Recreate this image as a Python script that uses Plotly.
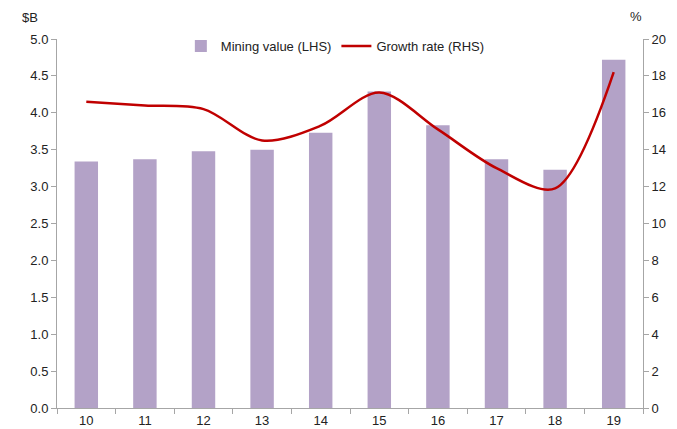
import plotly.graph_objects as go

categories = ["10", "11", "12", "13", "14", "15", "16", "17", "18", "19"]
mining_value = [3.34, 3.37, 3.48, 3.50, 3.73, 4.29, 3.83, 3.37, 3.23, 4.72]
growth_rate = [16.6, 16.4, 16.2, 14.5, 15.3, 17.1, 15.1, 13.0, 11.9, 18.2]
left_ticks = [0, 0.5, 1, 1.5, 2, 2.5, 3, 3.5, 4, 4.5, 5]
right_ticks = list(range(0, 21, 2))

font_family = "Liberation Sans, Arial, sans-serif"
axis_col = "#A6A6A6"

fig = go.Figure()
fig.add_trace(go.Bar(
    x=categories, y=mining_value, name="Mining value (LHS)",
    marker=dict(color="#B3A2C7", line=dict(width=0)), yaxis="y",
))
fig.add_trace(go.Scatter(
    x=categories, y=growth_rate, name="Growth rate (RHS)", mode="lines",
    line=dict(color="#C00000", width=2.5, shape="spline", smoothing=0.9), yaxis="y2",
))

fig.update_layout(
    width=677, height=429,
    margin=dict(l=57, r=34, t=39, b=21, autoexpand=False),
    paper_bgcolor="white", plot_bgcolor="white",
    font=dict(family=font_family, size=13, color="#222222"),
    bargap=0.6,
    showlegend=True,
    legend=dict(orientation="h", x=0.475, xanchor="center", y=0.981, yanchor="middle",
                font=dict(size=13), bgcolor="rgba(0,0,0,0)", itemwidth=30,
                traceorder="normal"),
    xaxis=dict(
        type="category", showline=True, linecolor=axis_col, linewidth=1,
        ticks="outside", tickson="boundaries", ticklen=5, tickcolor=axis_col,
        showgrid=False, zeroline=False, automargin=False, mirror=False,
    ),
    yaxis=dict(
        range=[0, 5], tickvals=left_ticks, tickformat=".1f",
        showline=True, linecolor=axis_col, linewidth=1,
        ticks="outside", ticklen=5, tickcolor=axis_col,
        showgrid=False, zeroline=False, automargin=False,
    ),
    yaxis2=dict(
        range=[0, 20], tickvals=right_ticks, overlaying="y", side="right",
        showline=True, linecolor=axis_col, linewidth=1,
        ticks="outside", ticklen=5, tickcolor=axis_col,
        showgrid=False, zeroline=False, automargin=False,
    ),
    annotations=[
        dict(text="$B", x=0.0, xref="paper", xanchor="center", xshift=-27,
             y=1.0, yref="paper", yanchor="middle", yshift=22, showarrow=False,
             font=dict(size=13)),
        dict(text="%", x=1.0, xref="paper", xanchor="center", xshift=-7,
             y=1.0, yref="paper", yanchor="middle", yshift=23, showarrow=False,
             font=dict(size=13)),
    ],
)

fig.write_html("out.html", config={"displayModeBar": False},
               post_script="document.body.style.margin='0';document.body.style.overflow='hidden';")
